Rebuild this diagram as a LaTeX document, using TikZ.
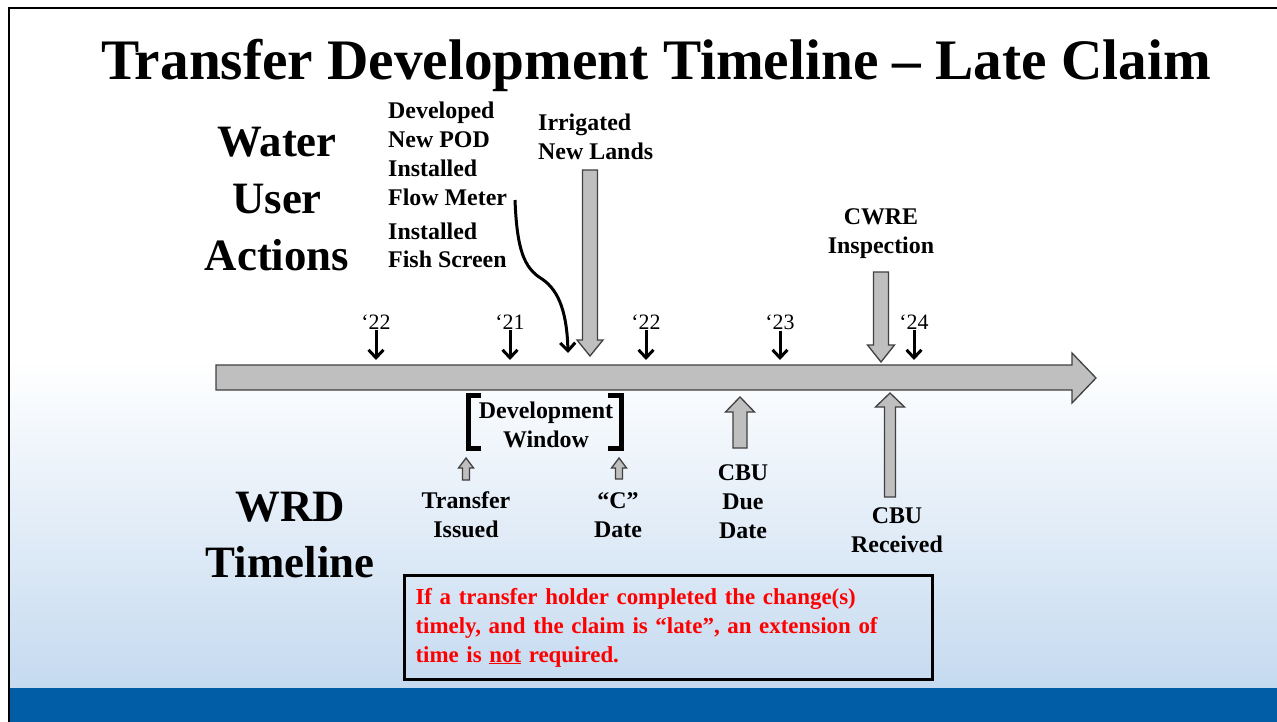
\documentclass[tikz,border=0pt]{standalone}
\usepackage{fontspec}
\setmainfont{Liberation Serif}
\usetikzlibrary{arrows.meta, positioning}
\definecolor{barfill}{HTML}{BFBFBF}
\definecolor{baredge}{HTML}{404040}
\definecolor{bgblue}{HTML}{C5DAF0}
\definecolor{bandblue}{HTML}{005DA6}

% vertical block arrow: x, tail y, head base y, tip y, shaft half, head half
\newcommand{\vblock}[6]{%
  \draw[blockarrow] ({#1-#5},#2) -- ({#1-#5},#3) -- ({#1-#6},#3) -- (#1,#4)
    -- ({#1+#6},#3) -- ({#1+#5},#3) -- ({#1+#5},#2) -- cycle;}

\begin{document}
\begin{tikzpicture}[
    x=1bp, y=-1bp,
    blockarrow/.style={fill=barfill, draw=baredge, line width=1.3bp, line join=miter},
    bigtitle/.style={font=\bfseries\fontsize{57.5}{62}\selectfont},
    sidehead/.style={font=\bfseries\fontsize{45}{57}\selectfont, align=center},
    label/.style={font=\bfseries\fontsize{24}{29}\selectfont, align=center, inner sep=0pt},
    yearlabel/.style={font=\fontsize{22}{24}\selectfont, inner sep=1bp},
    yeararrow/.style={line width=3bp, -{Straight Barb[length=8bp, width=15bp, line width=3bp]}},
    bracket/.style={line width=5bp, line join=miter},
    notebox/.style={draw=black, line width=3bp, minimum height=104bp,
      text width=506bp, inner xsep=11bp, inner ysep=8bp, align=left, text=red,
      font=\bfseries\fontsize{23}{29}\selectfont},
]
\useasboundingbox (0,0) rectangle (1277,722);

% slide background
\fill[white] (0,0) rectangle (1277,722);
\shade[top color=white, bottom color=bgblue] (10,360) rectangle (1277,688);
\fill[bandblue] (10,688) rectangle (1277,722);
\draw[line width=2bp] (9,722) -- (9,8) -- (1277,8);

% titles
\node[bigtitle] (title) at (656,65) {Transfer Development Timeline -- Late Claim};
\node[sidehead] (actions) at (277,199) {Water\\User\\Actions};
\node[sidehead] (wrd) at (290,535) {WRD\\Timeline};

% main timeline
\draw[blockarrow] (216,365) -- (1072,365) -- (1072,353) -- (1096,378) -- (1072,403)
  -- (1072,390) -- (216,390) -- cycle;

% years
\foreach \x/\yr/\nm in {376/‘22/ya, 510/‘21/yb, 646/‘22/yc, 780/‘23/yd, 914/‘24/ye}{
  \node[yearlabel] (\nm) at (\x,322) {\yr};
  \draw[yeararrow] (\nm.south) -- (\x,360);
}

% water user actions
\node[label, align=left, anchor=west] (works) at (388,185)
  {Developed\\New POD\\Installed\\Flow Meter\\[5bp]Installed\\Fish Screen};
\coordinate (meterend) at (515,200);
\coordinate (worksdone) at (568,353);
\draw[line width=3bp, -{Straight Barb[length=8bp, width=15bp, line width=3bp]}]
  (meterend) .. controls (517,250) and (524,268) .. (542,279)
  .. controls (560,291) and (567,315) .. (worksdone);

\node[label, align=left, anchor=west] (irrigated) at (538,137) {Irrigated\\New Lands};
\vblock{590}{170}{340}{356}{7.5}{13}

\node[label] (cwre) at (881,234) {CWRE\\Inspection};
\vblock{881}{272}{345}{362}{7.5}{13.5}

% WRD timeline
\draw[bracket] (481,395) -- (468,395) -- (468,448) -- (481,448);
\draw[bracket] (608,395) -- (621,395) -- (621,448) -- (608,448);
\node[label] (window) at (546,425) {Development\\Window};

\vblock{466}{480}{468}{458}{3.5}{7.5}
\node[label] (issued) at (466,515) {Transfer\\Issued};
\vblock{619}{479}{468}{458}{3.5}{7.5}
\node[label] (cdate) at (618,515) {“C”\\Date};

\vblock{740}{448}{412}{397}{7}{14.5}
\node[label] (cbudue) at (743,502) {CBU\\Due\\Date};

\vblock{890}{497}{407}{393}{5.5}{14.5}
\node[label] (cbureceived) at (897,530) {CBU\\Received};

% note
\node[notebox, anchor=north west] (note) at (403,574) {If a transfer holder completed the change(s)\\timely, and the claim is “late”, an extension of\\time is \underline{not} required.};

\end{tikzpicture}
\end{document}
